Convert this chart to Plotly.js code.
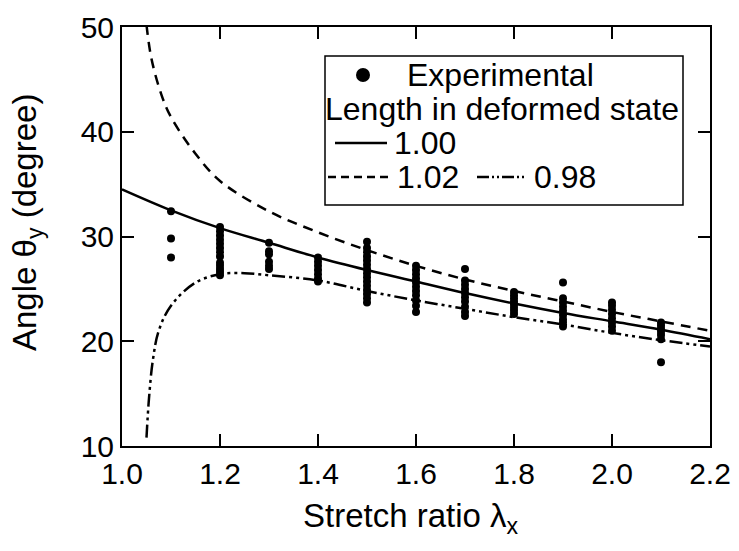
<!DOCTYPE html>
<html>
<head>
<meta charset="utf-8">
<script src="https://cdn.plot.ly/plotly-3.0.1.min.js"></script>
<style>
  html, body { margin: 0; padding: 0; background: #fff; }
  #chart { width: 739px; height: 551px; }
</style>
</head>
<body>
<div id="chart"></div>
<script>
// Theoretical curves (length in deformed state)
const lam100 = [1.0, 1.1, 1.2, 1.3, 1.4, 1.5, 1.6, 1.7, 1.8, 1.9, 2.0, 2.1, 2.2];
const theta100 = [34.5, 32.5, 30.8, 29.4, 28.0, 26.8, 25.7, 24.6, 23.6, 22.7, 21.9, 21.1, 20.2];

const lam102 = [1.05, 1.06, 1.08, 1.10, 1.15, 1.2, 1.3, 1.4, 1.5, 1.6, 1.7, 1.8, 1.9, 2.0, 2.1, 2.2];
const theta102 = [50.2, 47.0, 43.6, 41.4, 37.9, 35.3, 32.4, 30.4, 28.7, 27.2, 25.9, 24.8, 23.8, 22.8, 21.9, 21.0];

const lam098 = [1.05, 1.055, 1.063, 1.075, 1.1, 1.15, 1.2, 1.25, 1.3, 1.4, 1.5, 1.6, 1.7, 1.8, 1.9, 2.0, 2.1, 2.2];
const theta098 = [10.8, 14.5, 18.2, 21.0, 23.4, 25.6, 26.4, 26.5, 26.3, 25.8, 24.8, 23.9, 23.1, 22.3, 21.6, 20.8, 20.1, 19.5];

// Experimental measurements, grouped by stretch ratio
const expLam = [1.1, 1.2, 1.3, 1.4, 1.5, 1.6, 1.7, 1.8, 1.9, 2.0, 2.1];
const expTheta = [
  [32.4, 29.8, 28.0],
  [30.9, 30.5, 30.1, 29.7, 29.3, 28.9, 28.5, 28.1, 27.5, 27.2, 26.9, 26.6, 26.3],
  [29.4, 28.6, 28.3, 27.6, 27.2, 26.9],
  [28.0, 27.6, 27.2, 26.8, 26.4, 26.0, 25.7],
  [29.5, 28.9, 28.5, 28.1, 27.7, 27.3, 26.9, 26.5, 26.1, 25.7, 25.3, 24.9, 24.5, 24.1, 23.7],
  [27.2, 26.8, 26.4, 26.0, 25.6, 25.2, 24.8, 24.4, 23.9, 23.4, 22.8],
  [26.9, 25.8, 25.4, 25.0, 24.6, 24.2, 23.8, 23.3, 22.8, 22.4],
  [24.7, 24.4, 24.1, 23.8, 23.5, 23.2, 22.9, 22.6],
  [25.6, 24.1, 23.7, 23.3, 22.9, 22.5, 22.1, 21.8, 21.4],
  [23.7, 23.4, 23.0, 22.6, 22.2, 21.8, 21.4, 21.0],
  [21.8, 21.5, 21.2, 20.9, 20.6, 20.2, 18.0]
];

const xTickVals = [1.0, 1.2, 1.4, 1.6, 1.8, 2.0, 2.2];
const xTickText = ['1.0', '1.2', '1.4', '1.6', '1.8', '2.0', '2.2'];
const yTickVals = [10, 20, 30, 40, 50];

const legendLabels = ['Experimental', 'Length in deformed state', '1.00', '1.02', '0.98'];

// build flat experimental arrays
const expX = [], expY = [];
expLam.forEach((l, i) => expTheta[i].forEach(t => { expX.push(l); expY.push(t); }));

const FONT = 'Liberation Sans, Arial, sans-serif';
const FS_TICK = 30;
const FS_LEG = 32;
const FS_TITLE = 33;
const DASH102 = '10px,7px';
const DASH098 = '13px,4px,3px,4px,3px,4px';

const traces = [
  { x: lam100, y: theta100, mode: 'lines', line: { color: '#000', width: 2.5, shape: 'spline' }, name: '1.00' },
  { x: lam102, y: theta102, mode: 'lines', line: { color: '#000', width: 2.5, dash: DASH102, shape: 'spline' }, name: '1.02' },
  { x: lam098, y: theta098, mode: 'lines', line: { color: '#000', width: 2.5, dash: DASH098, shape: 'spline' }, name: '0.98' },
  { x: expX, y: expY, mode: 'markers', marker: { color: '#000', size: 8, symbol: 'circle' }, name: 'Experimental' }
];

// pixel -> paper helpers for the custom legend
const L = 122, R = 710, T = 27, B = 446;
const px = v => (v - L) / (R - L);
const py = v => (B - v) / (B - T);

const rows = [75, 109, 143, 177];

const shapes = [
  { type: 'rect', xref: 'paper', yref: 'paper', x0: px(325), x1: px(683), y0: py(205), y1: py(56),
    line: { color: '#000', width: 1.5 }, fillcolor: 'rgba(255,255,255,1)', layer: 'above' },
  { type: 'circle', xref: 'paper', yref: 'paper', xsizemode: 'pixel', ysizemode: 'pixel',
    xanchor: px(363), yanchor: py(rows[0]), x0: -7, x1: 7, y0: -7, y1: 7,
    fillcolor: '#000', line: { color: '#000', width: 0 } },
  { type: 'line', xref: 'paper', yref: 'paper', x0: px(335), x1: px(387), y0: py(rows[2]), y1: py(rows[2]),
    line: { color: '#000', width: 2.5 } },
  { type: 'line', xref: 'paper', yref: 'paper', x0: px(328), x1: px(388), y0: py(rows[3]), y1: py(rows[3]),
    line: { color: '#000', width: 2.5, dash: '8px,5px' } },
  { type: 'line', xref: 'paper', yref: 'paper', x0: px(477), x1: px(527), y0: py(rows[3]), y1: py(rows[3]),
    line: { color: '#000', width: 2.5, dash: '12px,3px,2px,3px,2px,3px' } }
];

const ann = (text, x, y, xanchor) => ({ text, xref: 'paper', yref: 'paper', x, y, xanchor, yanchor: 'middle',
  showarrow: false, font: { family: FONT, size: FS_LEG, color: '#000' } });

const annotations = [
  ann(legendLabels[0], px(405), py(rows[0]), 'left'),
  ann(legendLabels[1], px(502), py(rows[1]), 'center'),
  ann(legendLabels[2], px(392), py(rows[2]), 'left'),
  ann(legendLabels[3], px(395), py(rows[3]), 'left'),
  ann(legendLabels[4], px(532), py(rows[3]), 'left'),
  { text: 'Stretch ratio λ<sub>x</sub>', xref: 'paper', yref: 'paper', x: px(411), y: py(495), xanchor: 'center', yanchor: 'top',
    showarrow: false, font: { family: FONT, size: FS_TITLE, color: '#000' } },
  { text: 'Angle θ<sub>y</sub> (degree)', xref: 'paper', yref: 'paper', x: px(27), y: py(222), xanchor: 'center', yanchor: 'middle',
    textangle: -90, showarrow: false, font: { family: FONT, size: FS_TITLE, color: '#000' } }
];

const axisCommon = {
  showline: true, linecolor: '#000', linewidth: 2, mirror: 'ticks',
  ticks: 'inside', ticklen: 12, tickwidth: 2, tickcolor: '#000',
  showgrid: false, zeroline: false,
  tickfont: { family: FONT, size: FS_TICK, color: '#000' }
};

const layout = {
  width: 739, height: 551,
  margin: { l: L, r: 739 - R, t: T, b: 551 - B },
  paper_bgcolor: '#fff', plot_bgcolor: '#fff',
  showlegend: false,
  xaxis: Object.assign({}, axisCommon, { range: [1.0, 2.2], tickvals: xTickVals, ticktext: xTickText }),
  yaxis: Object.assign({}, axisCommon, { range: [10, 50], tickvals: yTickVals }),
  shapes, annotations
};

Plotly.newPlot('chart', traces, layout, { displayModeBar: false, staticPlot: true });
</script>
</body>
</html>
